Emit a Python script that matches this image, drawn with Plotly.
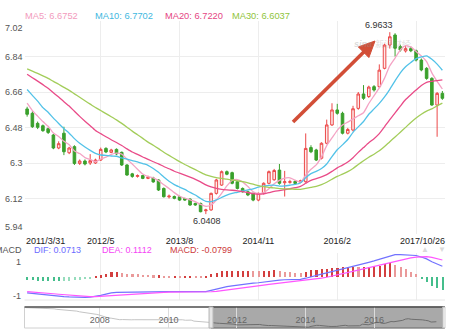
import pandas as pd
import plotly.graph_objects as go

# ---------------- data ----------------
# USD/CNY monthly closes before the displayed window (2005/10 .. 2011/2)
history_close = [
    8.0850, 8.0780, 8.0702,
    8.0608, 8.0470, 8.0170, 8.0156, 8.0200, 7.9956, 7.9713, 7.9620, 7.9087, 7.8850, 7.8460, 7.8087,
    7.7768, 7.7395, 7.7342, 7.7247, 7.6506, 7.6155, 7.5720, 7.5640, 7.5108, 7.4555, 7.3850, 7.3046,
    7.1918, 7.1103, 7.0190, 6.9960, 6.9400, 6.8591, 6.8388, 6.8508, 6.8183, 6.8388, 6.8272, 6.8346,
    6.8382, 6.8379, 6.8359, 6.8263, 6.8258, 6.8319, 6.8320, 6.8299, 6.8262, 6.8271, 6.8272, 6.8282,
    6.8270, 6.8258, 6.8263, 6.8259, 6.8284, 6.7815, 6.7735, 6.7950, 6.6905, 6.6705, 6.6700, 6.6220,
    6.6023, 6.5740,
]

# displayed monthly candles, 2011/3 .. 2017/10
open_ = [
    6.574, 6.552, 6.501, 6.489, 6.474, 6.442, 6.376, 6.451, 6.352, 6.383,
    6.298, 6.310, 6.300, 6.300, 6.315, 6.374, 6.354, 6.369, 6.354, 6.290,
    6.245, 6.232, 6.236, 6.222, 6.224, 6.214, 6.171, 6.128, 6.130, 6.129,
    6.120, 6.117, 6.095, 6.095, 6.058, 6.062, 6.146, 6.188, 6.256, 6.251,
    6.205, 6.171, 6.154, 6.146, 6.112, 6.146, 6.197, 6.215, 6.264, 6.200,
    6.202, 6.207, 6.203, 6.205, 6.378, 6.366, 6.324, 6.400, 6.493, 6.569,
    6.552, 6.451, 6.467, 6.577, 6.650, 6.637, 6.687, 6.687, 6.780, 6.898,
    6.949, 6.890, 6.868, 6.880, 6.869, 6.822, 6.780, 6.729, 6.594, 6.653,
]
high = [
    6.585, 6.562, 6.510, 6.495, 6.480, 6.447, 6.410, 6.484, 6.382, 6.390,
    6.318, 6.318, 6.345, 6.322, 6.378, 6.380, 6.372, 6.374, 6.358, 6.294,
    6.250, 6.242, 6.240, 6.236, 6.230, 6.218, 6.176, 6.140, 6.135, 6.134,
    6.124, 6.121, 6.099, 6.099, 6.068, 6.150, 6.220, 6.262, 6.262, 6.256,
    6.210, 6.176, 6.160, 6.150, 6.150, 6.202, 6.262, 6.270, 6.295, 6.260,
    6.215, 6.212, 6.215, 6.450, 6.390, 6.372, 6.405, 6.520, 6.603, 6.600,
    6.560, 6.478, 6.590, 6.660, 6.695, 6.692, 6.695, 6.800, 6.905, 6.9633,
    6.958, 6.900, 6.893, 6.890, 6.875, 6.830, 6.786, 6.735, 6.660, 6.665,
]
low = [
    6.535, 6.478, 6.472, 6.458, 6.447, 6.370, 6.370, 6.340, 6.345, 6.290,
    6.290, 6.288, 6.290, 6.295, 6.310, 6.350, 6.350, 6.340, 6.285, 6.235,
    6.225, 6.226, 6.218, 6.218, 6.200, 6.158, 6.125, 6.120, 6.116, 6.108,
    6.108, 6.083, 6.083, 6.050, 6.0408, 6.058, 6.140, 6.184, 6.238, 6.192,
    6.166, 6.150, 6.132, 6.106, 6.106, 6.140, 6.192, 6.210, 6.190, 6.130,
    6.195, 6.190, 6.198, 6.200, 6.350, 6.310, 6.318, 6.395, 6.488, 6.545,
    6.445, 6.445, 6.460, 6.570, 6.620, 6.630, 6.662, 6.680, 6.775, 6.880,
    6.840, 6.865, 6.860, 6.862, 6.815, 6.765, 6.722, 6.590, 6.433, 6.620,
]
close = [
    6.547, 6.484, 6.481, 6.464, 6.455, 6.376, 6.398, 6.357, 6.376, 6.298,
    6.310, 6.295, 6.312, 6.315, 6.369, 6.356, 6.366, 6.346, 6.290, 6.239,
    6.232, 6.236, 6.222, 6.228, 6.204, 6.163, 6.129, 6.132, 6.121, 6.112,
    6.112, 6.087, 6.087, 6.053, 6.062, 6.146, 6.214, 6.256, 6.243, 6.197,
    6.171, 6.154, 6.138, 6.112, 6.146, 6.197, 6.256, 6.262, 6.197, 6.205,
    6.205, 6.196, 6.210, 6.374, 6.357, 6.315, 6.400, 6.493, 6.569, 6.552,
    6.451, 6.470, 6.575, 6.650, 6.628, 6.685, 6.670, 6.771, 6.898, 6.940,
    6.882, 6.873, 6.880, 6.869, 6.822, 6.772, 6.729, 6.594, 6.653, 6.628,
]

# MACD(12, 26, 9) of the monthly series
dif = [
    -0.100, -0.104, -0.108, -0.112, -0.115, -0.119, -0.122, -0.124, -0.126, -0.128,
    -0.129, -0.129, -0.128, -0.124, -0.116, -0.108, -0.100, -0.097, -0.096, -0.095,
    -0.094, -0.093, -0.093, -0.093, -0.092, -0.092, -0.092, -0.092, -0.092, -0.092,
    -0.092, -0.092, -0.093, -0.094, -0.092, -0.084, -0.075, -0.066, -0.060, -0.055,
    -0.050, -0.045, -0.041, -0.038, -0.035, -0.030, -0.025, -0.020, -0.018, -0.016,
    -0.015, -0.014, -0.013, -0.006, 0.004, 0.012, 0.020, 0.028, 0.036, 0.045,
    0.055, 0.064, 0.072, 0.080, 0.088, 0.096, 0.105, 0.115, 0.128, 0.140,
    0.145, 0.146, 0.145, 0.143, 0.140, 0.130, 0.118, 0.100, 0.085, 0.0713,
]
dea = [
    -0.092, -0.094, -0.097, -0.100, -0.103, -0.106, -0.109, -0.112, -0.115, -0.118,
    -0.120, -0.122, -0.124, -0.124, -0.122, -0.120, -0.116, -0.113, -0.110, -0.107,
    -0.105, -0.103, -0.101, -0.100, -0.099, -0.098, -0.097, -0.096, -0.096, -0.095,
    -0.095, -0.095, -0.095, -0.095, -0.095, -0.093, -0.090, -0.085, -0.080, -0.075,
    -0.071, -0.066, -0.062, -0.058, -0.054, -0.050, -0.046, -0.042, -0.038, -0.034,
    -0.031, -0.028, -0.025, -0.022, -0.018, -0.012, -0.006, 0.000, 0.007, 0.014,
    0.022, 0.030, 0.038, 0.046, 0.054, 0.062, 0.070, 0.078, 0.086, 0.095,
    0.104, 0.112, 0.119, 0.125, 0.130, 0.133, 0.133, 0.128, 0.120, 0.1112,
]
macd = [
    -0.016, -0.020, -0.022, -0.024, -0.024, -0.026, -0.026, -0.024, -0.022, -0.020,
    -0.018, -0.014, -0.008, 0.002, 0.012, 0.024, 0.032, 0.032, 0.028, 0.024,
    0.022, 0.020, 0.016, 0.014, 0.012, 0.012, 0.010, 0.008, 0.008, 0.006,
    0.006, 0.006, 0.004, 0.002, 0.006, 0.018, 0.030, 0.038, 0.040, 0.040,
    0.042, 0.042, 0.042, 0.040, 0.038, 0.040, 0.042, 0.044, 0.040, 0.036,
    0.034, 0.030, 0.028, 0.032, 0.044, 0.048, 0.052, 0.056, 0.058, 0.062,
    0.066, 0.068, 0.068, 0.066, 0.068, 0.068, 0.070, 0.074, 0.084, 0.090,
    0.082, 0.068, 0.052, 0.036, 0.020, -0.006, -0.030, -0.056, -0.070, -0.0799,
]

price_ticks = [7.02, 6.84, 6.66, 6.48, 6.30, 6.12, 5.94]
macd_ticks = [0.1, -0.1]
macd_tick_text = ["1", "-1"]
nav_years = [2008, 2010, 2012, 2014, 2016]
ma_periods = [5, 10, 20, 30]
last_day = "2017-10-26"

# ---------------- derived series ----------------
n_hist = len(history_close)
all_close = history_close + close
month_ends = pd.date_range("2005-10-01", periods=len(all_close), freq="MS") + pd.offsets.MonthEnd(0)
month_ends = month_ends[:-1].append(pd.DatetimeIndex([pd.Timestamp(last_day)]))
win_dates = month_ends[n_hist:]
idx = list(range(len(close)))

ma = {p: pd.Series(all_close).rolling(p).mean().iloc[n_hist:].tolist() for p in ma_periods}

# ---------------- geometry (pixels) ----------------
W, H = 451, 333
X0, X1 = 24.5, 445.0
MAIN_T, MAIN_B = 21.0, 234.0
MACD_T, MACD_B = 253.0, 300.0
NAV_T, NAV_B = 307.0, 328.0


def fx(p):
    return p / W


def fy(p):
    return 1 - p / H


FONT = "Liberation Sans, Arial, Helvetica, sans-serif"
GRID = "#ededed"

grid_idx = list(range(14, len(close), 15))
grid_text = [f"{d.year}/{d.month}" for d in win_dates[grid_idx]]
grid_text[-1] = ""

ma_colors = {5: "#f4a3c4", 10: "#52c2e8", 20: "#e94b88", 30: "#a3cd5a"}
ma_text_colors = {5: "#f29bbd", 10: "#3fb8e0", 20: "#e54684", 30: "#8fc43c"}

fig = go.Figure()

fig.add_trace(go.Candlestick(
    x=idx, open=open_, high=high, low=low, close=close,
    increasing=dict(line=dict(color="#ec4848", width=1), fillcolor="#fde9e9"),
    decreasing=dict(line=dict(color="#3aa02c", width=1), fillcolor="#3aa02c"),
    whiskerwidth=0, xaxis="x", yaxis="y", hoverinfo="skip",
))

for p in ma_periods:
    fig.add_trace(go.Scatter(
        x=idx, y=ma[p], mode="lines", xaxis="x", yaxis="y",
        line=dict(color=ma_colors[p], width=1.3, shape="spline", smoothing=0.5),
        hoverinfo="skip",
    ))

# MACD histogram: darker when the bar grows, lighter when it shrinks
bar_colors = []
for i, v in enumerate(macd):
    prev = macd[i - 1] if i else v
    if v >= 0:
        bar_colors.append("#d33f3f" if v >= prev else "#ea9a9a")
    else:
        bar_colors.append("#45be8c" if v <= prev else "#96dcbc")
fig.add_trace(go.Bar(x=idx, y=macd, marker=dict(color=bar_colors, line=dict(width=0)),
                     width=0.3, xaxis="x2", yaxis="y2", hoverinfo="skip"))
fig.add_trace(go.Scatter(x=idx, y=dif, mode="lines", xaxis="x2", yaxis="y2",
                         line=dict(color="#7272ff", width=1.2), hoverinfo="skip"))
fig.add_trace(go.Scatter(x=idx, y=dea, mode="lines", xaxis="x2", yaxis="y2",
                         line=dict(color="#ff55ff", width=1.2), hoverinfo="skip"))

# navigator: full history, the displayed window drawn darker
fig.add_trace(go.Scatter(x=month_ends[:n_hist + 1], y=all_close[:n_hist + 1], mode="lines",
                         xaxis="x3", yaxis="y3", line=dict(color="#c4c4c4", width=1),
                         hoverinfo="skip"))
fig.add_trace(go.Scatter(x=win_dates, y=close, mode="lines",
                         xaxis="x3", yaxis="y3", line=dict(color="#6e6e6e", width=1),
                         hoverinfo="skip"))

dom = [fx(X0), fx(X1)]
fig.update_layout(
    width=W, height=H, margin=dict(l=0, r=0, t=0, b=0),
    paper_bgcolor="white", plot_bgcolor="white", showlegend=False,
    font=dict(family=FONT, size=9, color="#333"),
    bargap=0,
    xaxis=dict(domain=dom, range=[-0.5, len(close) - 0.5], anchor="y",
               tickvals=grid_idx, ticktext=grid_text, ticks="",
               tickfont=dict(size=9, color="#222"),
               showgrid=True, gridcolor=GRID, zeroline=False, showline=False,
               rangeslider=dict(visible=False), fixedrange=True),
    yaxis=dict(domain=[fy(MAIN_B), fy(MAIN_T)], range=[price_ticks[-1], price_ticks[0]],
               tickvals=price_ticks, showticklabels=False, showgrid=True, gridcolor=GRID,
               zeroline=False, showline=False, fixedrange=True),
    xaxis2=dict(domain=dom, range=[-0.5, len(close) - 0.5], anchor="y2",
                tickvals=grid_idx, showticklabels=False, ticks="",
                showgrid=True, gridcolor=GRID, zeroline=False, showline=False,
                fixedrange=True),
    yaxis2=dict(domain=[fy(MACD_B), fy(MACD_T)], range=[-0.146, 0.156],
                showticklabels=False, showgrid=False, zeroline=False, fixedrange=True),
    xaxis3=dict(domain=dom, type="date", range=["2005-10-20", "2018-01-26"], anchor="y3",
                tickvals=[f"{y}-01-01" for y in nav_years], ticktext=[str(y) for y in nav_years],
                ticklabelposition="inside", ticks="", tickfont=dict(size=9, color="#666"),
                showgrid=True, gridcolor="#dcdcdc", zeroline=False, showline=False,
                fixedrange=True),
    yaxis3=dict(domain=[fy(NAV_B), fy(NAV_T)], range=[5.98, 8.15], visible=False,
                fixedrange=True),
)

shapes = []
# MACD panel bottom rule
shapes.append(dict(type="line", xref="paper", yref="paper", x0=fx(X0), x1=fx(X1),
                   y0=fy(MACD_B), y1=fy(MACD_B), line=dict(color="#e6e6e6", width=1)))
# navigator frame
shapes.append(dict(type="rect", xref="paper", yref="paper", x0=fx(X0), x1=fx(X1),
                   y0=fy(NAV_B), y1=fy(NAV_T), line=dict(color="#d0d0d0", width=1),
                   layer="below"))
# selected window
shapes.append(dict(type="rect", xref="x3", yref="paper", x0=win_dates[0], x1="2018-01-22",
                   y0=fy(NAV_B), y1=fy(NAV_T), fillcolor="#a9a9a9",
                   line=dict(color="#6a6a6a", width=1), layer="below"))
shapes.append(dict(type="line", xref="paper", yref="paper", x0=fx(X0), x1=fx(X1),
                   y0=fy(NAV_T), y1=fy(NAV_T), line=dict(color="#555", width=1.5)))
for xa in (win_dates[0], "2018-01-22"):
    shapes.append(dict(type="rect", xref="x3", yref="paper", xsizemode="pixel", xanchor=xa,
                       x0=-2, x1=2, y0=fy(NAV_B), y1=fy(NAV_T), fillcolor="#e6e6e6",
                       line=dict(color="#b4b4b4", width=1)))

# trend arrow
tail = (293.0, 122.0)
tip = (375.0, 41.0)
dx, dy = tip[0] - tail[0], tip[1] - tail[1]
ln = (dx * dx + dy * dy) ** 0.5
ux, uy = dx / ln, dy / ln
head_len, head_half = 16.0, 7.5
bx, by = tip[0] - ux * head_len, tip[1] - uy * head_len
c1 = (bx - uy * head_half, by + ux * head_half)
c2 = (bx + uy * head_half, by - ux * head_half)
ARROW = "#d24e37"
shapes.append(dict(type="line", xref="paper", yref="paper",
                   x0=fx(tail[0]), y0=fy(tail[1]), x1=fx(bx + ux * 2), y1=fy(by + uy * 2),
                   line=dict(color=ARROW, width=3.6)))
shapes.append(dict(type="path", xref="paper", yref="paper",
                   path=(f"M {fx(tip[0])} {fy(tip[1])} L {fx(c1[0])} {fy(c1[1])} "
                         f"L {fx(c2[0])} {fy(c2[1])} Z"),
                   fillcolor=ARROW, line=dict(color=ARROW, width=1)))

ann = []


def text(x, y, s, color="#333", size=9, xanchor="left", yanchor="middle", **kw):
    ann.append(dict(xref="paper", yref="paper", x=fx(x), y=fy(y), text=s, showarrow=False,
                    xanchor=xanchor, yanchor=yanchor,
                    font=dict(family=FONT, size=size, color=color), **kw))


# moving-average legend
for p, xl in zip(ma_periods, [23, 93, 163, 230]):
    text(xl, 15.5, f"MA{p}: {ma[p][-1]:.4f}", color=ma_text_colors[p], size=9.3)

# price axis labels
for v in price_ticks:
    ya = "middle"
    if v == price_ticks[0]:
        ya = "top"
    elif v == price_ticks[-1]:
        ya = "bottom"
    ann.append(dict(xref="paper", yref="y", x=fx(24.5), y=v, text=f"{v:g}", showarrow=False,
                    xanchor="right", yanchor=ya, font=dict(family=FONT, size=9, color="#555")))

# first / last date of the window
fmt = lambda d: f"{d.year}/{d.month}/{d.day}"
text(X0 - 1, 240.5, fmt(win_dates[0]), color="#222")
text(X1 + 2, 240.5, fmt(win_dates[-1]), color="#222", xanchor="right")

# high / low markers
hi_i = max(idx, key=lambda i: high[i])
lo_i = min(idx, key=lambda i: low[i])
ann.append(dict(xref="x", yref="y", x=hi_i, y=high[hi_i], text=f"{high[hi_i]:.4f}",
                showarrow=False, xanchor="right", yanchor="bottom", xshift=5, yshift=0,
                font=dict(family=FONT, size=9, color="#333")))
ann.append(dict(xref="x", yref="y", x=lo_i, y=low[lo_i], text=f"{low[lo_i]:.4f}",
                showarrow=False, xanchor="center", yanchor="top", xshift=1, yshift=0,
                font=dict(family=FONT, size=9, color="#333")))

# MACD legend and axis labels
text(24, 249.5, "MACD", color="#555", xanchor="right")
text(32, 249.5, f"DIF: {dif[-1]:.4f}", color="#6b6bff")
text(100, 249.5, f"DEA: {dea[-1]:.4f}", color="#f545f5")
text(168, 249.5, f"MACD: {macd[-1]:.4f}", color="#cc3a3a")
text(425, 249.5, "▲", color="#dadada", xanchor="center", size=8)
text(442, 249.5, "▼", color="#dadada", xanchor="center", size=8)
for v, s, sh in zip(macd_ticks, macd_tick_text, [0, -3]):
    ann.append(dict(xref="paper", yref="y2", x=fx(23), y=v, text=s, showarrow=False,
                    xanchor="right", yanchor="middle", yshift=sh,
                    font=dict(family=FONT, size=9, color="#555")))

# source watermark
text(352, 44, "<b><i>sina</i></b> 新浪财经", color="rgba(150,150,150,0.35)", size=9,
     xanchor="left")

fig.update_layout(shapes=shapes, annotations=ann)
fig.write_html("out.html", config={"displayModeBar": False})
